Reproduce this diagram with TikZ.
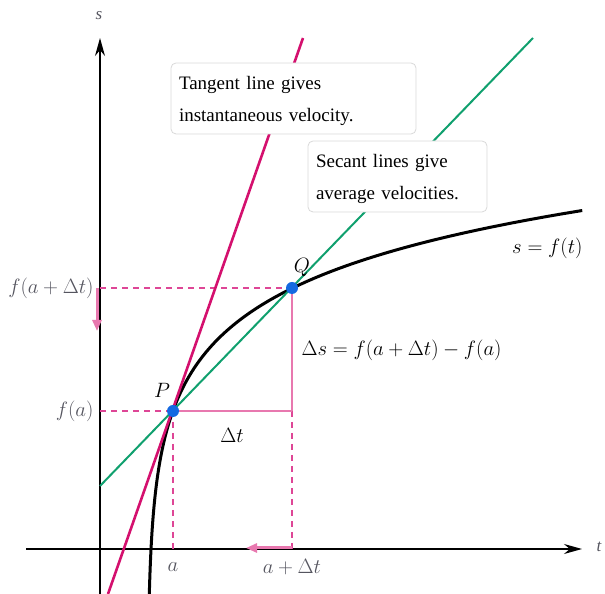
\documentclass[tikz,border=0pt]{standalone}
\usepackage{fontspec}
\setmainfont{Liberation Serif}
\usetikzlibrary{arrows.meta, positioning, calc}

\definecolor{tanpink}{RGB}{212,16,110}
\definecolor{secgreen}{RGB}{16,160,110}
\definecolor{dotblue}{RGB}{20,105,225}
\definecolor{guidepink}{RGB}{222,70,150}
\definecolor{softpink}{RGB}{232,120,175}
\definecolor{labelgray}{RGB}{85,85,95}

\begin{document}
\begin{tikzpicture}[
    x=1pt, y=1pt,
    axis/.style={line width=1.3pt, -{Stealth[length=18pt, width=10pt]}},
    guide/.style={guidepink, line width=1.4pt, dash pattern=on 6pt off 5pt},
    delta/.style={softpink, line width=1.4pt},
    shiftarrow/.style={softpink, line width=3pt, -{Triangle[length=11pt, width=9pt]}},
    note/.style={draw=black!15, line width=0.8pt, rounded corners=5pt, fill=white,
                 align=left, inner sep=0pt, text width=#1,
                 font=\fontsize{19}{32}\selectfont},
    axlabel/.style={text=labelgray, font=\fontsize{20}{24}\selectfont},
    ptlabel/.style={font=\fontsize{20}{24}\selectfont},
    dot/.style={circle, fill=dotblue, inner sep=0pt, minimum size=12pt}
  ]
  \useasboundingbox (0,0) rectangle (605,594);

  % Points on the curve
  \coordinate (P) at (173,183);
  \coordinate (Q) at (292,306);
  \coordinate (R) at (292,183);

  % Axes
  \coordinate (xstart) at (26,45);
  \coordinate (xend) at (582,45);
  \coordinate (ystart) at (100,0);
  \coordinate (yend) at (100,556);
  \draw[axis] (xstart) -- (xend);
  \draw[axis] (ystart) -- (yend);
  \node[text=labelgray, font=\fontsize{17}{20}\selectfont\itshape] (tlabel) at (599,47) {t};
  \node[text=labelgray, font=\fontsize{17}{20}\selectfont\itshape] (slabel) at (99,578) {s};

  % Guide lines
  \coordinate (fa) at (100,183);
  \coordinate (fad) at (100,306);
  \coordinate (ta) at (173,45);
  \coordinate (tad) at (292,45);
  \draw[guide] (fa) -- (P);
  \draw[guide] (fad) -- (Q);
  \draw[guide] (P) -- (ta);
  \draw[guide] (R) -- (tad);
  \draw[delta] (P) -- (R);
  \draw[delta] (Q) -- (R);

  % Curve s = f(t)
  \draw[line width=3pt] plot[domain=0:383.5, samples=120, variable=\v]
    ({147.4+exp((\v+46)/70.7)}, \v);

  % Tangent and secant lines
  \coordinate (tanlow) at (108,0);
  \coordinate (tanhigh) at (303,556);
  \coordinate (seclow) at (100,108);
  \coordinate (sechigh) at (533,556);
  \draw[tanpink, line width=2.6pt] (tanlow) -- (tanhigh);
  \draw[secgreen, line width=2pt] (seclow) -- (sechigh);

  % Shift arrows
  \coordinate (sdown) at (97,263);
  \coordinate (tleft) at (246,46);
  \draw[shiftarrow] ($(fad)+(-3,0)$) -- (sdown);
  \draw[shiftarrow] ($(tad)+(0,1)$) -- (tleft);

  % Notes
  \node[note=229pt, minimum height=71pt, minimum width=245pt, inner xsep=8pt]
    (tannote) at (293.5,495.5) {\rule{0pt}{18pt}Tangent line gives\\instantaneous velocity.};
  \node[note=163pt, minimum height=71pt, minimum width=179pt, inner xsep=8pt]
    (secnote) at (397.5,417.5) {\rule{0pt}{18pt}Secant lines give\\average velocities.};

  % Points
  \node[dot] (Pdot) at (P) {};
  \node[dot] (Qdot) at (Q) {};
  \node[ptlabel] (Plabel) at (162,204) {$P$};
  \node[ptlabel] (Qlabel) at (302,327) {$Q$};

  % Labels
  \node[axlabel, anchor=east] (falabel) at (97,183) {$f(a)$};
  \node[axlabel, anchor=east] (fadlabel) at (97,306) {$f(a+\Delta t)$};
  \node[axlabel] (alabel) at (173,27) {$a$};
  \node[axlabel] (adlabel) at (292,27) {$a+\Delta t$};
  \node[ptlabel] (dtlabel) at (232,159) {$\Delta t$};
  \node[ptlabel, anchor=west] (dslabel) at (298,244) {$\Delta s = f(a+\Delta t) - f(a)$};
  \node[ptlabel, anchor=east] (curvelabel) at (586,346) {$s = f(t)$};

\end{tikzpicture}
\end{document}
